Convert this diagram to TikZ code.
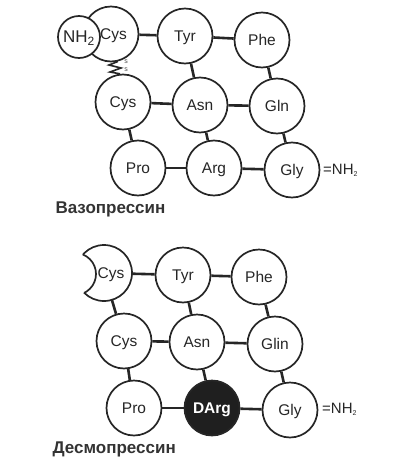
\documentclass[tikz,border=0pt]{standalone}
\usepackage{fontspec}
\setmainfont{Liberation Sans}
\begin{document}
\begin{tikzpicture}[x=1pt,y=-1pt,
  aa/.style={circle,draw=black!85,line width=1.7pt,fill=white,minimum size=55pt,inner sep=0pt,font=\fontsize{15.5}{15.5}\selectfont,text=black!85,text height=11pt,text depth=0pt},
  conn/.style={draw=black!85,line width=2.6pt},
  lbl/.style={font=\bfseries\fontsize{17}{17}\selectfont,text=black!80,anchor=west},
  amide/.style={font=\fontsize{15}{15}\selectfont,text=black!85,anchor=west,inner sep=0pt}]
\useasboundingbox (0,0) rectangle (400,469);
% ---- Vasopressin ----
\node[aa] (cys1) at (111,34) {\hspace*{5pt}Cys};
\node[aa,minimum size=42pt,font=\fontsize{17}{17}\selectfont] (nh2) at (79,37) {NH\textsubscript{\fontsize{12}{12}\selectfont 2}};
\node[aa] (tyr1) at (185,36) {Tyr};
\node[aa] (phe1) at (262,40) {Phe};
\node[aa] (cys2) at (123,102) {Cys};
\node[aa] (asn1) at (200,105) {Asn};
\node[aa] (gln1) at (277,106) {Gln};
\node[aa] (pro1) at (138,168) {Pro};
\node[aa] (arg1) at (214,168) {Arg};
\node[aa] (gly1) at (292,170) {Gly};
\node[amide] (am1) at (323,170) {=NH\textsubscript{\scriptsize 2}};
\node[lbl] (vaso) at (52,209) {Вазопрессин};
\draw[conn] (cys1) -- (tyr1);
\draw[conn] (tyr1) -- (phe1);
\draw[conn] (tyr1) -- (asn1);
\draw[conn] (phe1) -- (gln1);
\draw[conn] (cys2) -- (asn1);
\draw[conn] (asn1) -- (gln1);
\draw[conn] (cys2) -- (pro1);
\draw[conn] (asn1) -- (arg1);
\draw[conn] (gln1) -- (gly1);
\draw[conn] (pro1) -- (arg1);
\draw[conn] (arg1) -- (gly1);
\coordinate (s1) at (cys1.-76);
\coordinate (s2) at (cys2.96);
\draw[draw=black!85,line width=1.6pt] (s1) -- (109,65) -- (121,68) -- (110,72) -- (s2);
\node[font=\fontsize{7}{7}\selectfont,text=black!70,inner sep=0pt] (sa) at (126,62) {s};
\node[font=\fontsize{7}{7}\selectfont,text=black!70,inner sep=0pt] (sb) at (126,70) {s};
% ---- Desmopressin ----
\node[minimum size=56pt,circle,inner sep=0pt,font=\fontsize{15.5}{15.5}\selectfont,text=black!85,text height=11pt,text depth=0pt] (cysb) at (104,273) {\hspace*{14pt}Cys};
\begin{scope}[even odd rule]
  \clip (0,200) rectangle (200,340) (75,274) circle (21pt);
  \draw[draw=black!85,line width=1.7pt] (104,273) circle (28pt);
\end{scope}
\begin{scope}
  \clip (104,273) circle (28pt);
  \draw[draw=black!85,line width=1.7pt] (75,274) circle (21pt);
\end{scope}
\node[aa] (tyr2) at (183,275) {Tyr};
\node[aa] (phe2) at (259,277) {Phe};
\node[aa] (cys3) at (124,341) {Cys};
\node[aa] (asn2) at (197,342) {Asn};
\node[aa] (gln2) at (275,344) {Glin};
\node[aa] (pro2) at (134,408) {Pro};
\node[aa,fill=black!88,text=white,font=\bfseries\fontsize{15.5}{15.5}\selectfont] (darg) at (212,408) {DArg};
\node[aa] (gly2) at (290,410) {Gly};
\node[amide] (am2) at (322,409) {=NH\textsubscript{\scriptsize 2}};
\node[lbl] (desmo) at (49,449) {Десмопрессин};
\draw[conn] (cysb) -- (tyr2);
\draw[conn] (tyr2) -- (phe2);
\draw[conn] (cysb) -- (cys3);
\draw[conn] (tyr2) -- (asn2);
\draw[conn] (phe2) -- (gln2);
\draw[conn] (cys3) -- (asn2);
\draw[conn] (asn2) -- (gln2);
\draw[conn] (cys3) -- (pro2);
\draw[conn] (asn2) -- (darg);
\draw[conn] (gln2) -- (gly2);
\draw[conn] (pro2) -- (darg);
\draw[conn] (darg) -- (gly2);
\end{tikzpicture}
\end{document}
